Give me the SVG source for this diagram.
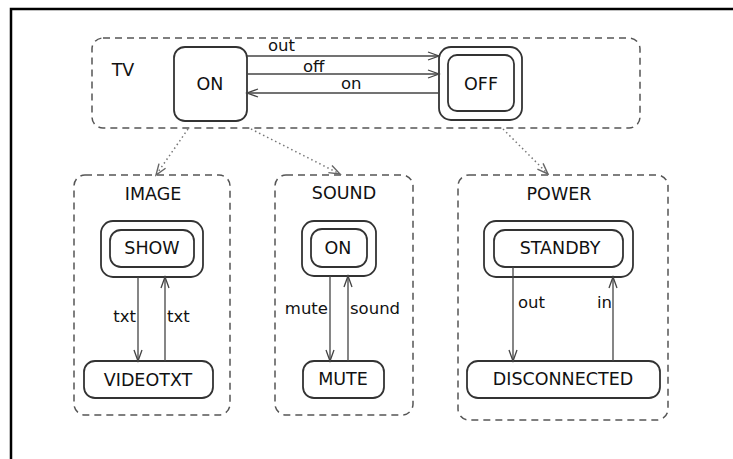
<svg xmlns="http://www.w3.org/2000/svg" width="733" height="459" viewBox="0 0 733 459">
<style>
text{font-family:"DejaVu Sans","Liberation Sans",sans-serif;fill:#111}
.name{font-size:17.5px;text-anchor:middle}
.lbl{font-size:16.5px}
.cont{fill:none;stroke:#555;stroke-width:1.5;stroke-dasharray:7 5}
.st{fill:#fff;stroke:#333;stroke-width:1.8}
.tr{stroke:#444;stroke-width:1.3;fill:none}
.dot{stroke:#777;stroke-width:1.5;stroke-dasharray:1.5 3;fill:none}
</style>
<defs>
<marker id="ah" markerUnits="userSpaceOnUse" markerWidth="14" markerHeight="10" refX="12" refY="5" orient="auto">
<path d="M1,1 L12,5 L1,9" fill="none" stroke="#444" stroke-width="1.3"/>
</marker>
<marker id="ahd" markerUnits="userSpaceOnUse" markerWidth="14" markerHeight="10" refX="12" refY="5" orient="auto">
<path d="M1,1 L12,5 L1,9" fill="none" stroke="#666" stroke-width="1.4"/>
</marker>
</defs>
<rect width="733" height="459" fill="#fff"/>
<path d="M11,459 V9 H733" fill="none" stroke="#000" stroke-width="2.5"/>

<g id="TV">
<rect class="cont" x="92" y="38" width="548" height="90" rx="11"/>
<text class="name" x="123" y="76">TV</text>
</g>
<g id="TV_ON">
<rect class="st" x="174" y="47" width="73" height="74" rx="11"/>
<text class="name" x="210" y="90">ON</text>
</g>
<g id="TV_OFF">
<rect class="st" x="439" y="47" width="83" height="73" rx="12"/>
<rect class="st" x="448" y="55" width="66" height="56" rx="9"/>
<text class="name" x="481" y="90">OFF</text>
</g>

<g id="IMAGE">
<rect class="cont" x="74" y="175" width="156" height="240" rx="11"/>
<text class="name" x="153" y="200">IMAGE</text>
</g>
<g id="IMAGE_SHOW">
<rect class="st" x="101" y="221" width="102" height="56" rx="12"/>
<rect class="st" x="110" y="230" width="84" height="37" rx="11"/>
<text class="name" x="152" y="254">SHOW</text>
</g>
<g id="IMAGE_VIDEOTXT">
<rect class="st" x="84" y="361" width="129" height="37" rx="11"/>
<text class="name" x="148" y="386">VIDEOTXT</text>
</g>

<g id="SOUND">
<rect class="cont" x="275" y="175" width="138" height="240" rx="11"/>
<text class="name" x="344" y="199">SOUND</text>
</g>
<g id="SOUND_ON">
<rect class="st" x="302" y="221" width="74" height="55" rx="12"/>
<rect class="st" x="311" y="229" width="56" height="38" rx="11"/>
<text class="name" x="338" y="254">ON</text>
</g>
<g id="SOUND_MUTE">
<rect class="st" x="303" y="361" width="81" height="37" rx="11"/>
<text class="name" x="343" y="385">MUTE</text>
</g>

<g id="POWER">
<rect class="cont" x="458" y="175" width="210" height="245" rx="11"/>
<text class="name" x="559" y="200">POWER</text>
</g>
<g id="POWER_STANDBY">
<rect class="st" x="484" y="221" width="149" height="56" rx="12"/>
<rect class="st" x="494" y="230" width="129" height="37" rx="11"/>
<text class="name" x="560" y="254">STANDBY</text>
</g>
<g id="POWER_DISCONNECTED">
<rect class="st" x="467" y="361" width="193" height="37" rx="11"/>
<text class="name" x="563" y="385">DISCONNECTED</text>
</g>

<g id="connectors">
<line class="tr" x1="247" y1="56" x2="439" y2="56" marker-end="url(#ah)"/>
<line class="tr" x1="247" y1="74" x2="439" y2="74" marker-end="url(#ah)"/>
<line class="tr" x1="439" y1="93" x2="247" y2="93" marker-end="url(#ah)"/>
<rect x="266" y="39" width="32" height="14" fill="#fff"/>
<text class="lbl" x="268" y="51">out</text>
<rect x="301" y="60" width="27" height="13" fill="#fff"/>
<text class="lbl" x="303" y="72">off</text>
<rect x="339" y="77" width="25" height="14" fill="#fff"/>
<text class="lbl" x="341" y="89">on</text>

<line class="tr" x1="138" y1="277" x2="138" y2="361" marker-end="url(#ah)"/>
<line class="tr" x1="165" y1="361" x2="165" y2="277" marker-end="url(#ah)"/>
<text class="lbl" x="136" y="322" text-anchor="end">txt</text>
<text class="lbl" x="167" y="322">txt</text>

<line class="tr" x1="330" y1="276" x2="330" y2="361" marker-end="url(#ah)"/>
<line class="tr" x1="348" y1="361" x2="348" y2="276" marker-end="url(#ah)"/>
<text class="lbl" x="328" y="314" text-anchor="end">mute</text>
<text class="lbl" x="350" y="314">sound</text>

<line class="tr" x1="513" y1="267" x2="513" y2="361" marker-end="url(#ah)"/>
<line class="tr" x1="613" y1="361" x2="613" y2="277" marker-end="url(#ah)"/>
<text class="lbl" x="518" y="308">out</text>
<text class="lbl" x="597" y="308">in</text>

<line class="dot" x1="188" y1="129" x2="156" y2="175" marker-end="url(#ahd)"/>
<line class="dot" x1="251" y1="129" x2="340" y2="174" marker-end="url(#ahd)"/>
<line class="dot" x1="503" y1="129" x2="548" y2="174" marker-end="url(#ahd)"/>
</g>
</svg>
